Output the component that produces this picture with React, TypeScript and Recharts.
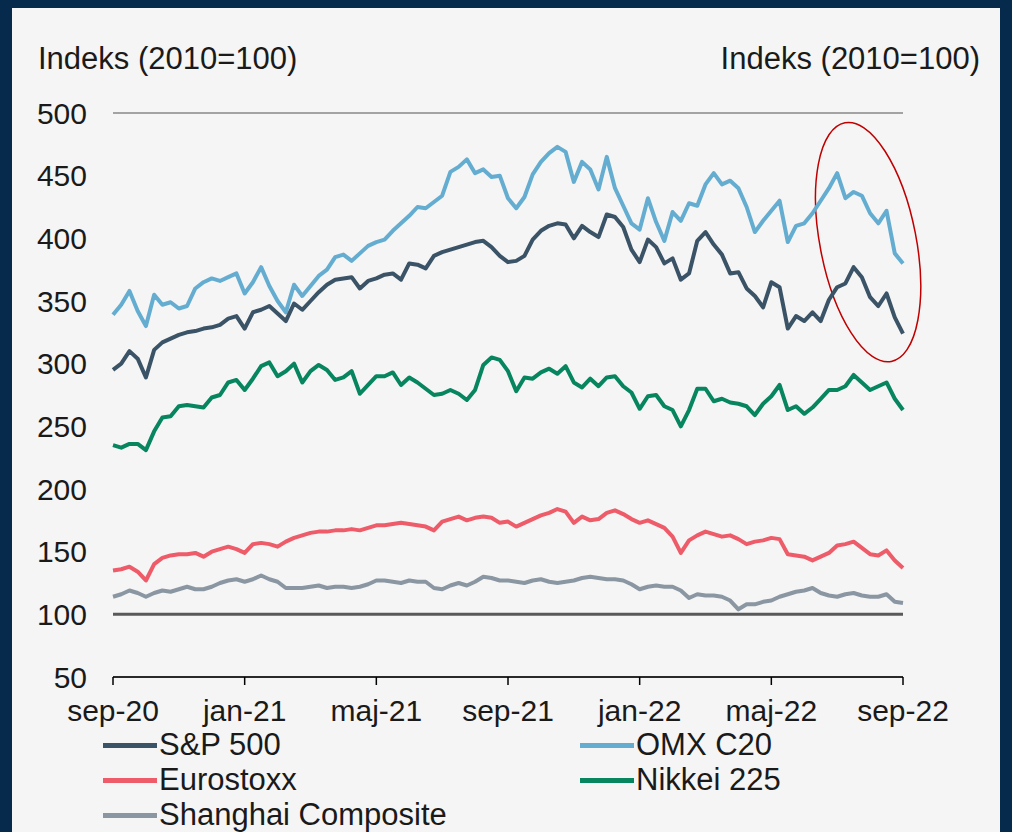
import React from "react";
import {
  LineChart,
  Line,
  XAxis,
  YAxis,
  CartesianGrid,
  ReferenceLine,
  ReferenceArea,
} from "recharts";

// quarter-month samples, sep-20 .. sep-22
const monthTicks = [0, 4, 8, 12, 16, 20, 24];
const monthLabels = ["sep-20", "jan-21", "maj-21", "sep-21", "jan-22", "maj-22", "sep-22"];
const yTicks = [50, 100, 150, 200, 250, 300, 350, 400, 450, 500];

const omx = [
  339, 347, 358, 342, 330, 355, 347, 349, 344, 346, 360, 365, 368, 366, 369, 372,
  356, 365, 377, 362, 350, 341, 363, 354, 362, 370, 375, 385, 387, 382, 388, 394,
  397, 399, 406, 412, 418, 425, 424, 429, 434, 453, 457, 463, 452, 455, 449, 450,
  432, 424, 433, 451, 461, 468, 473, 469, 445, 461, 455, 439, 465, 440, 426, 412,
  407, 432, 413, 398, 421, 414, 428, 426, 443, 452, 443, 446, 440, 425, 405, 414,
  422, 430, 397, 410, 412, 420, 430, 440, 452, 432, 437, 434, 420, 412, 422, 388, 380,
];
const sp500 = [
  295, 300, 310, 304, 289, 311, 317, 320, 323, 325, 326, 328, 329, 331, 336, 338,
  328, 341, 343, 346, 340, 334, 348, 343, 350, 357, 363, 367, 368, 369, 360, 366,
  368, 371, 372, 367, 380, 379, 376, 386, 389, 391, 393, 395, 397, 398, 393, 386,
  381, 382, 386, 399, 406, 410, 412, 411, 400, 410, 405, 401, 419, 417, 409, 391,
  381, 399, 393, 380, 384, 367, 372, 398, 405, 395, 387, 372, 373, 360, 354, 345,
  365, 361, 328, 338, 334, 341, 334, 351, 361, 364, 377, 369, 353, 346, 356, 337, 324,
];
const nikkei = [
  235, 233, 236, 236, 231, 246, 257, 258, 266, 267, 266, 265, 273, 275, 285, 287,
  279, 288, 298, 301, 290, 294, 300, 285, 294, 299, 295, 287, 289, 294, 276, 283,
  290, 290, 293, 283, 289, 285, 280, 275, 276, 279, 276, 271, 279, 299, 305, 303,
  294, 278, 289, 288, 293, 296, 292, 298, 285, 281, 288, 282, 289, 290, 282, 277,
  264, 274, 275, 266, 263, 250, 263, 280, 280, 270, 272, 269, 268, 266, 259, 268,
  274, 283, 263, 266, 260, 265, 272, 279, 279, 282, 291, 285, 279, 282, 285, 272, 263,
];
const eurostoxx = [
  135, 136, 138, 134, 127, 140, 145, 147, 148, 148, 149, 146, 150, 152, 154, 152,
  149, 156, 157, 156, 154, 158, 161, 163, 165, 166, 166, 167, 167, 168, 167, 169,
  171, 171, 172, 173, 172, 171, 170, 167, 174, 176, 178, 175, 177, 178, 177, 173,
  174, 170, 173, 176, 179, 181, 184, 182, 173, 178, 175, 176, 181, 183, 180, 176,
  173, 175, 172, 169, 162, 149, 159, 163, 166, 164, 162, 163, 160, 156, 158, 159,
  161, 160, 148, 147, 146, 143, 146, 149, 155, 156, 158, 153, 148, 147, 151, 143, 137,
];
const shanghai = [
  114, 116, 119, 117, 114, 117, 119, 118, 120, 122, 120, 120, 122, 125, 127, 128,
  126, 128, 131, 128, 126, 121, 121, 121, 122, 123, 121, 122, 122, 121, 122, 124,
  127, 127, 126, 125, 127, 126, 126, 121, 120, 123, 125, 123, 126, 130, 129, 127,
  127, 126, 125, 127, 128, 126, 125, 126, 127, 129, 130, 129, 128, 128, 127, 124,
  120, 122, 123, 122, 122, 119, 113, 116, 115, 115, 114, 111, 104, 108, 108, 110,
  111, 114, 116, 118, 119, 121, 117, 115, 114, 116, 117, 115, 114, 114, 116, 110, 109,
];

const data = omx.map((v, i) => ({
  m: i / 4,
  omx: v,
  sp500: sp500[i],
  nikkei: nikkei[i],
  eurostoxx: eurostoxx[i],
  shanghai: shanghai[i],
}));

const series = [
  { key: "shanghai", name: "Shanghai Composite", color: "#8a97a3" },
  { key: "eurostoxx", name: "Eurostoxx", color: "#ee5b69" },
  { key: "nikkei", name: "Nikkei 225", color: "#06855f" },
  { key: "omx", name: "OMX C20", color: "#64add1" },
  { key: "sp500", name: "S&P 500", color: "#3b5366" },
];

const legendRows = [
  [series[4], series[3]],
  [series[1], series[2]],
  [series[0]],
];

const font = "'Liberation Sans', Arial, sans-serif";
const tickStyle = { fontSize: 30, fill: "#1a1a1a", fontFamily: font };

const Ellipse = (props: any) => {
  const { x, y, width, height } = props;
  const cx = x + width / 2;
  const cy = y + height / 2;
  return (
    <ellipse
      cx={cx}
      cy={cy}
      rx={width / 2}
      ry={height / 2}
      transform={`rotate(-11 ${cx} ${cy})`}
      fill="none"
      stroke="#c00000"
      strokeWidth={1.5}
    />
  );
};

export default function App() {
  return (
    <div style={{ position: "fixed", left: 0, top: 0, width: 1012, height: 832, background: "#062a4c", overflow: "hidden" }}>
      <div style={{ position: "absolute", left: 12, top: 8, width: 988, height: 824, background: "#f5f5f5" }} />
      <div style={{ position: "absolute", left: 38, top: 41, fontSize: 31, fontFamily: font, color: "#1a1a1a" }}>
        Indeks (2010=100)
      </div>
      <div style={{ position: "absolute", right: 32, top: 41, fontSize: 31, fontFamily: font, color: "#1a1a1a" }}>
        Indeks (2010=100)
      </div>
      <div style={{ position: "absolute", left: 0, top: 0 }}>
        <LineChart width={1012} height={832} data={data} margin={{ top: 113, right: 49, bottom: 115, left: 53 }}>
          <CartesianGrid vertical={false} stroke="#a3a3a3" strokeWidth={2} />
          <XAxis
            dataKey="m"
            type="number"
            domain={[0, 24]}
            ticks={monthTicks}
            tickFormatter={(v: number) => monthLabels[monthTicks.indexOf(v)]}
            tick={tickStyle}
            height={40}
            tickSize={8}
            tickMargin={15}
            stroke="#000"
            strokeWidth={1.5}
          />
          <YAxis
            yAxisId="left"
            domain={[50, 500]}
            ticks={yTicks}
            width={60}
            tick={tickStyle}
            axisLine={false}
            tickLine={false}
            tickSize={0}
            tickMargin={26}
          />
          <YAxis
            yAxisId="right"
            orientation="right"
            domain={[50, 500]}
            ticks={yTicks}
            width={60}
            tick={tickStyle}
            axisLine={false}
            tickLine={false}
            tickSize={0}
            tickMargin={27}
          />
          <ReferenceLine yAxisId="left" y={100} stroke="#595959" strokeWidth={3} />
          {series.map((s) => (
            <Line
              key={s.key}
              yAxisId="left"
              type="linear"
              dataKey={s.key}
              name={s.name}
              stroke={s.color}
              strokeWidth={4}
              strokeLinejoin="round"
              dot={false}
              isAnimationActive={false}
            />
          ))}
          <ReferenceArea
            yAxisId="left"
            x1={21.48}
            x2={24.4}
            y1={300}
            y2={494}
            ifOverflow="visible"
            shape={Ellipse}
          />
        </LineChart>
      </div>
      {legendRows.map((row, r) =>
        row.map((s, c) => (
          <div
            key={s.key}
            style={{
              position: "absolute",
              left: c === 0 ? 103 : 580,
              top: 745 + r * 35 - 18,
              height: 36,
              display: "flex",
              alignItems: "center",
              fontSize: 31,
              fontFamily: font,
              color: "#1a1a1a",
              whiteSpace: "nowrap",
            }}
          >
            <span style={{ display: "inline-block", width: 54, height: 5, background: s.color, marginRight: 2 }} />
            {s.name}
          </div>
        ))
      )}
    </div>
  );
}
